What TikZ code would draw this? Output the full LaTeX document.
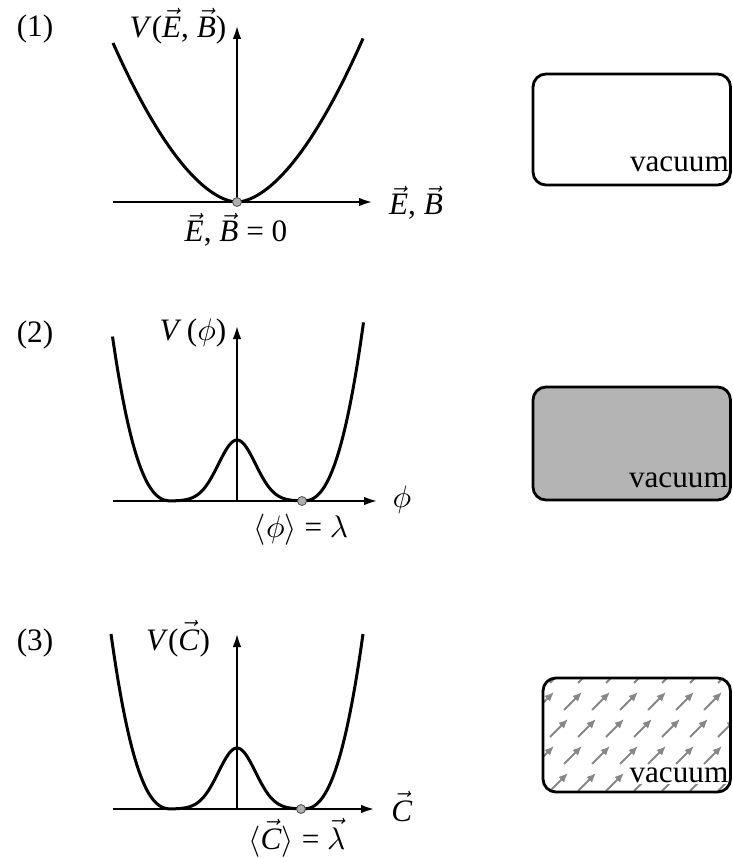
\documentclass[tikz,border=0pt]{standalone}
\usepackage{fontspec}
\setmainfont{Liberation Serif}
\usetikzlibrary{arrows.meta}
\definecolor{boxgray}{RGB}{180,180,180}
\definecolor{dotgray}{RGB}{175,175,175}
\definecolor{fieldgray}{RGB}{135,135,135}
\newcommand{\LB}[1]{\scalebox{2.85}{\fontsize{10.95}{13}\selectfont #1}}
\newcommand{\vv}[1]{\ensuremath{\vec{\hbox{\textit{#1}}}}}
\begin{document}
\begin{tikzpicture}[x=1pt,y=-1pt,
  declare function={
    bt(\u)=abs(\u)/124;
    bowl(\u)=159*bt(\u)*sqrt(bt(\u))*sqrt(sqrt(bt(\u)));
    wt(\u)=max(abs(\u)-65,0)/59;
    dw(\u)=61*exp(-min((\u/26.15)*(\u/26.15),9)) + 161*wt(\u)*wt(\u)*sqrt(wt(\u));
  },
  axis/.style={line width=2.6pt,-{Latex[length=14pt,width=8.5pt]}},
  curve/.style={line width=3pt},
  lbl/.style={inner sep=0pt, anchor=base},
  dot/.style={circle, draw=black!70, line width=0.8pt, fill=dotgray, minimum size=9pt, inner sep=0pt},
  box/.style={draw, line width=2.8pt, rounded corners=13pt},
  vac/.style={inner sep=0pt, anchor=base east},
  fieldarrow/.style={draw=fieldgray, line width=1.8pt, -{Latex[length=9.5pt,width=8pt]}}
]
\useasboundingbox (0,0) rectangle (732,858);

% ---------- Panel 1 ----------
\node[lbl] (n1) at (35,37) {\LB{(1)}};
\draw[axis] (113,202) -- (373,202);
\draw[axis] (237,202) -- (237,25);
\draw[curve] plot[domain=-124:126, samples=121] ({237+\x},{202-bowl(\x)});
\node[dot] (d1) at (237,202) {};
\node[lbl] (v1lab) at (178,38) {\LB{\textit{V}(\vv{E}, \vv{B})}};
\node[lbl] (x1lab) at (416,215) {\LB{\vv{E}, \vv{B}}};
\node[lbl] (m1lab) at (236,242) {\LB{\vv{E}, \vv{B} = 0}};

% ---------- Panel 2 ----------
\node[lbl] (n2) at (35,342) {\LB{(2)}};
\draw[axis] (113,501) -- (378,501);
\draw[axis] (237,501) -- (237,325);
\draw[curve] plot[domain=-124.5:126.5, samples=161] ({237+\x},{501-dw(\x)});
\node[dot] (d2) at (302,501) {};
\node[lbl] (v2lab) at (193,340) {\LB{\textit{V}\,($\phi$)}};
\node[lbl] (x2lab) at (402,507) {\LB{$\phi$}};
\node[lbl] (m2lab) at (301,537) {\LB{$\langle\phi\rangle$ = $\lambda$}};

% ---------- Panel 3 ----------
\node[lbl] (n3) at (35,650) {\LB{(3)}};
\draw[axis] (113,809) -- (375,809);
\draw[axis] (237,809) -- (237,633);
\draw[curve] plot[domain=-126:126, samples=161] ({237+\x},{809-dw(\x)});
\node[dot] (d3) at (301,809) {};
\node[lbl] (v3lab) at (178,650) {\LB{\textit{V}(\vv{C})}};
\node[lbl] (x3lab) at (402,821) {\LB{\vv{C}}};
\node[lbl] (m3lab) at (297,849) {\LB{$\langle$\vv{C}$\rangle$ = $\vec{\lambda}$}};

% ---------- Boxes ----------
\draw[box] (533,74) rectangle (730.5,185);
\node[vac] (vac1) at (729,172) {\LB{vacuum}};

\draw[box, fill=boxgray] (533,387) rectangle (730.5,500);
\node[vac] (vac2) at (728,487) {\LB{vacuum}};

\begin{scope}
  \clip[rounded corners=13pt] (543,678) rectangle (730.5,792);
  \foreach \j in {-1,...,4}{
    \foreach \i in {-2,...,7}{
      \pgfmathsetmacro\tx{582+28*\i-14*\j}
      \pgfmathsetmacro\ty{692+27*\j}
      \draw[fieldarrow] (\tx-18,\ty+18) -- (\tx,\ty);
    }
  }
\end{scope}
\node[vac, fill=white, inner sep=1.5pt] (vac3) at (730,782) {\LB{vacuum}};
\draw[box] (543,678) rectangle (730.5,792);
\end{tikzpicture}
\end{document}
